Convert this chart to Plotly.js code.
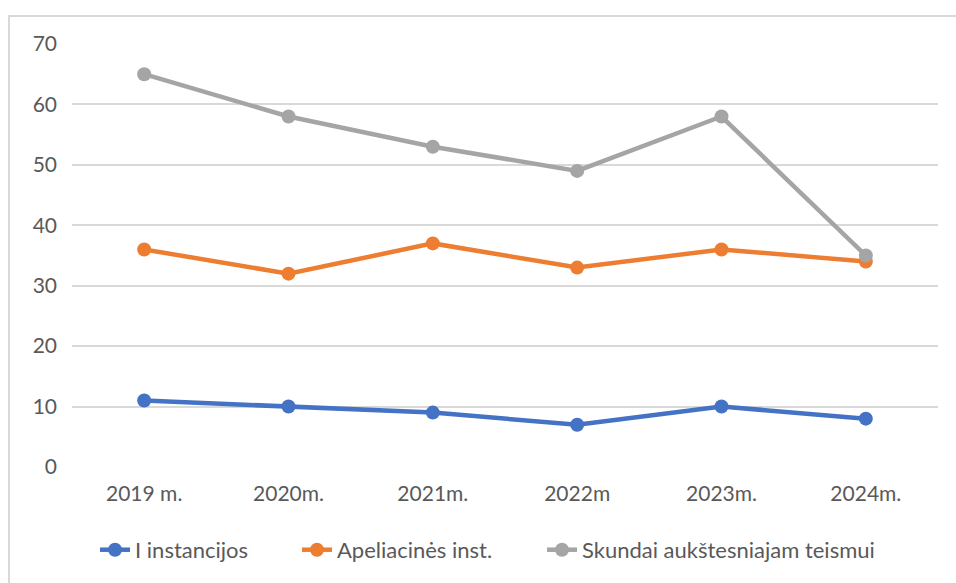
<!DOCTYPE html>
<html><head><meta charset="utf-8">
<script src="https://cdn.plot.ly/plotly-3.0.1.min.js"></script>
<style>
html,body{margin:0;padding:0;background:#fff;}
#wrap{position:relative;width:956px;height:583px;overflow:hidden;}
#frame{position:absolute;left:8px;top:15px;width:1000px;height:1000px;border-left:2px solid #d9d9d9;border-top:2px solid #d9d9d9;pointer-events:none;}
#chart{position:absolute;left:0;top:0;width:956px;height:583px;}
</style></head>
<body>
<div id="wrap"><div id="chart"></div><div id="frame"></div></div>
<script>
const categories = ["2019 m.", "2020m.", "2021m.", "2022m", "2023m.", "2024m."];
const seriesNames = ["I instancijos", "Apeliacinės inst.", "Skundai aukštesniajam teismui"];
const instancijos = [11, 10, 9, 7, 10, 8];
const apeliacines = [36, 32, 37, 33, 36, 34];
const skundai = [65, 58, 53, 49, 58, 35];
const colors = ["#4472C4", "#ED7D31", "#A5A5A5"];
const yTicks = [0, 10, 20, 30, 40, 50, 60, 70];

const vals = [instancijos, apeliacines, skundai];
const legendIds = ["legend", "legend2", "legend3"];
const traces = vals.map((v, i) => ({
  type: "scatter", mode: "lines+markers",
  x: categories, y: v, name: seriesNames[i], legend: legendIds[i],
  line: {color: colors[i], width: 4.5},
  marker: {color: colors[i], size: 14}
}));

function leg(x) {
  return {orientation: "h", x: x, xanchor: "left", y: -0.196, yanchor: "middle",
          font: {size: 22, color: "#595959"}, bgcolor: "rgba(0,0,0,0)"};
}

const layout = {
  width: 956, height: 583,
  margin: {l: 72, r: 18, t: 44, b: 116},
  paper_bgcolor: "#fff", plot_bgcolor: "#fff",
  font: {family: "Lato, 'Open Sans', sans-serif", size: 21, color: "#595959"},
  showlegend: true,
  legend: leg(0.0266),
  legend2: leg(0.2598),
  legend3: leg(0.5427),
  xaxis: {type: "category", range: [-0.5, 5.5], showgrid: false, zeroline: false,
          showline: false, ticks: "", ticklabelstandoff: 12, tickfont: {size: 21}},
  yaxis: {range: [0, 70], tickvals: yTicks, showgrid: true, gridcolor: "#d9d9d9", gridwidth: 1.5,
          zeroline: false, showline: false, ticks: "", ticklabelstandoff: 14, tickfont: {size: 21}}
};
Plotly.newPlot("chart", traces, layout, {displayModeBar: false});
</script>
</body></html>
